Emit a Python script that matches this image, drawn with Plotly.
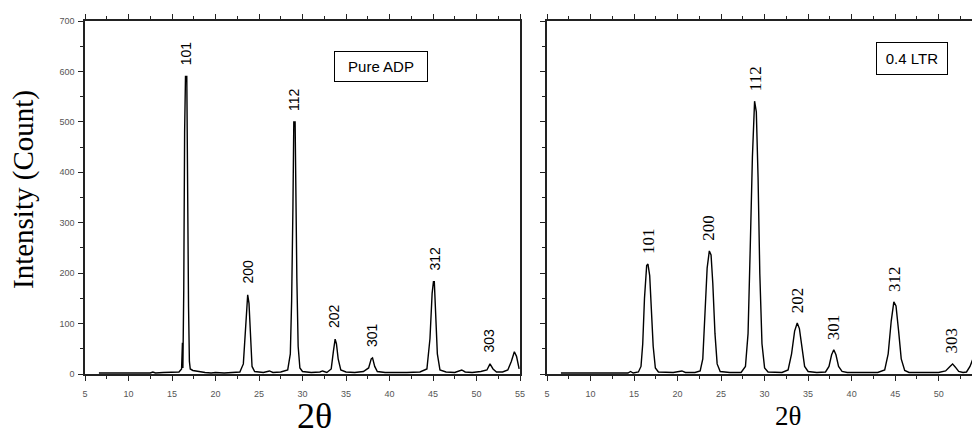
import plotly.graph_objects as go

# ---------------- data ----------------
adp_2theta = [6.6, 10.0, 12.5, 12.8, 13.1, 14.0, 15.0, 15.8, 16.1, 16.2, 16.25, 16.35, 16.45, 16.55,
              16.7, 16.75, 16.9, 17.0, 17.1, 17.4, 18.0, 18.8, 19.5, 20.0, 21.0, 22.0, 22.8, 23.2,
              23.45, 23.6, 23.7, 23.85, 24.0, 24.2, 24.5, 25.0, 25.5, 26.2, 26.6, 27.5, 28.3, 28.6,
              28.75, 28.9, 29.0, 29.15, 29.2, 29.35, 29.5, 29.7, 30.0, 31.0, 32.0, 32.3, 32.8, 33.3,
              33.55, 33.75, 33.9, 34.1, 34.4, 35.0, 36.0, 37.0, 37.6, 37.9, 38.05, 38.3, 38.6, 39.5,
              42.0, 43.5, 44.3, 44.65, 44.9, 45.05, 45.15, 45.3, 45.5, 45.8, 46.5, 47.5, 48.0, 48.3,
              48.7, 49.5, 50.5, 51.2, 51.55, 51.9, 52.3, 53.0, 53.6, 54.0, 54.35, 54.6, 54.9]
adp_count = [2, 2, 2, 4, 2, 3, 3, 4, 10, 62, 12, 165, 480, 590,
             590, 410, 135, 25, 10, 7, 5, 3, 2, 3, 2, 3, 4, 20,
             95, 150, 157, 140, 70, 15, 5, 4, 3, 6, 3, 4, 8, 40,
             145, 330, 500, 500, 400, 190, 55, 12, 5, 3, 4, 6, 3, 10,
             45, 69, 60, 30, 8, 4, 3, 5, 12, 30, 32, 15, 5, 3,
             3, 4, 10, 70, 160, 183, 183, 120, 40, 8, 4, 3, 6, 8,
             4, 3, 5, 8, 20, 10, 4, 4, 8, 25, 44, 35, 10]

ltr_2theta = [6.6, 10.0, 14.3, 14.6, 14.9, 15.5, 15.8, 16.0, 16.2, 16.45, 16.6, 16.8, 17.0, 17.2,
              17.45, 17.8, 19.5, 20.0, 20.5, 20.9, 22.0, 22.6, 22.9, 23.15, 23.4, 23.65, 23.85, 24.05,
              24.3, 24.55, 24.9, 26.0, 27.3, 27.8, 28.1, 28.35, 28.6, 28.85, 29.05, 29.25, 29.45, 29.7,
              30.0, 30.4, 32.0, 32.7, 33.1, 33.45, 33.75, 34.0, 34.3, 34.6, 35.0, 36.0, 37.0, 37.4,
              37.7, 37.95, 38.2, 38.5, 38.9, 39.5, 43.0, 43.8, 44.2, 44.55, 44.85, 45.1, 45.4, 45.7,
              46.1, 46.6, 50.0, 50.8, 51.3, 51.6, 51.9, 52.3, 52.8, 53.2, 53.6, 54.0, 54.3, 54.6, 54.9]
ltr_count = [2, 2, 2, 5, 2, 4, 15, 60, 150, 215, 218, 195, 130, 55,
             12, 4, 3, 5, 6, 3, 3, 6, 30, 120, 210, 244, 236, 180,
             80, 20, 5, 3, 3, 15, 80, 250, 430, 541, 520, 390, 200, 60,
             12, 4, 3, 8, 40, 85, 101, 90, 50, 15, 5, 3, 4, 15,
             38, 48, 38, 15, 5, 3, 3, 8, 40, 105, 143, 135, 85, 30,
             7, 3, 3, 6, 15, 20, 14, 5, 3, 4, 15, 35, 46, 40, 20]

peak_labels = ["101", "200", "112", "202", "301", "312", "303"]
adp_peak_2theta = [16.7, 23.7, 29.1, 33.6, 38.0, 45.2, 51.4]
adp_peak_count = [590, 157, 500, 69, 32, 183, 20]
ltr_peak_2theta = [16.6, 23.6, 28.95, 33.75, 37.9, 45.0, 51.5]
ltr_peak_count = [218, 244, 541, 101, 48, 143, 20]

x_ticks = [5, 10, 15, 20, 25, 30, 35, 40, 45, 50, 55]
y_ticks = [0, 100, 200, 300, 400, 500, 600, 700]

# ---------------- figure ----------------
# the page body adds an 8 px margin, so the figure is 8 px smaller and all
# reference pixel positions are shifted by -8
W, H, OFF = 972, 424, 8


def px(x):
    return (x - OFF) / W


def py(y):
    return 1 - (y - OFF) / H


fig = go.Figure()
fig.add_trace(go.Scatter(x=adp_2theta, y=adp_count, mode="lines",
                         line=dict(color="black", width=1.4), xaxis="x", yaxis="y",
                         showlegend=False))
fig.add_trace(go.Scatter(x=ltr_2theta, y=ltr_count, mode="lines",
                         line=dict(color="black", width=1.4), xaxis="x2", yaxis="y2",
                         showlegend=False))

tickfont = dict(family="Liberation Sans, Arial", size=9, color="#555555")
common_x = dict(tickvals=x_ticks, ticks="outside", ticklen=5, tickwidth=1.2, tickcolor="#222",
                showline=True, linecolor="#222", linewidth=1.5, mirror="ticks",
                showgrid=False, zeroline=False, tickfont=tickfont, ticklabelstandoff=5,
                minor=dict(dtick=2.5, tick0=5, ticks="outside", ticklen=3, tickcolor="#222", tickwidth=1.2))
common_y = dict(range=[0, 700], tickvals=y_ticks, ticks="outside", ticklen=5, tickwidth=1.2,
                tickcolor="#222", showline=True, linecolor="#222", linewidth=1.5,
                showgrid=False, zeroline=False, tickfont=tickfont, ticklabelstandoff=2,
                minor=dict(dtick=50, tick0=0, ticks="outside", ticklen=3, tickcolor="#222", tickwidth=1.2))

dom_y = [py(374), py(21)]
fig.update_layout(
    width=W, height=H,
    margin=dict(l=0, r=0, t=0, b=0, autoexpand=False),
    paper_bgcolor="white", plot_bgcolor="white",
    xaxis=dict(domain=[px(85), px(520)], range=[5, 55], anchor="y", **common_x),
    yaxis=dict(domain=dom_y, anchor="x", mirror=True, **common_y),
    xaxis2=dict(domain=[px(547), 1.0], range=[5, 54.75], anchor="y2", **common_x),
    yaxis2=dict(domain=dom_y, anchor="x2", mirror=False, showticklabels=False, **common_y),
)

annotations = []
for lab, x0, y0 in zip(peak_labels, adp_peak_2theta, adp_peak_count):
    annotations.append(dict(x=x0, y=y0, xref="x", yref="y", text=lab, textangle=-90,
                            showarrow=False, xanchor="center", yanchor="bottom", yshift=9,
                            font=dict(family="Liberation Sans, Arial", size=14, color="black")))
for lab, x0, y0 in zip(peak_labels, ltr_peak_2theta, ltr_peak_count):
    annotations.append(dict(x=x0, y=y0, xref="x2", yref="y2", text=lab, textangle=-90,
                            showarrow=False, xanchor="center", yanchor="bottom", yshift=8,
                            font=dict(family="Liberation Serif, Times New Roman", size=17, color="black")))

# sample boxes
annotations.append(dict(x=px(381), y=py(66), xref="paper", yref="paper", text="Pure ADP",
                        showarrow=False, xanchor="center", yanchor="middle",
                        bordercolor="black", borderwidth=1, borderpad=4, width=84, height=21,
                        font=dict(family="Liberation Sans, Arial", size=15, color="black")))
annotations.append(dict(x=px(912), y=py(58), xref="paper", yref="paper", text="0.4 LTR",
                        showarrow=False, xanchor="center", yanchor="middle",
                        bordercolor="black", borderwidth=1, borderpad=4, width=62, height=23,
                        font=dict(family="Liberation Serif, Times New Roman", size=1, color="black")
                        if False else dict(family="Liberation Sans, Arial", size=15, color="black")))

# axis titles
annotations.append(dict(x=px(23), y=py(190), xref="paper", yref="paper",
                        text="Intensity (Count)", textangle=-90, showarrow=False,
                        xanchor="center", yanchor="middle",
                        font=dict(family="Liberation Serif, Times New Roman", size=29, color="black")))
annotations.append(dict(x=px(314), y=py(416), xref="paper", yref="paper",
                        text="2θ", showarrow=False, xanchor="center", yanchor="middle",
                        font=dict(family="Liberation Serif, Times New Roman", size=36, color="black")))
annotations.append(dict(x=px(788), y=py(416), xref="paper", yref="paper",
                        text="2θ", showarrow=False, xanchor="center", yanchor="middle",
                        font=dict(family="Liberation Serif, Times New Roman", size=27, color="black")))

fig.update_layout(annotations=annotations)
fig.write_html("out.html")
